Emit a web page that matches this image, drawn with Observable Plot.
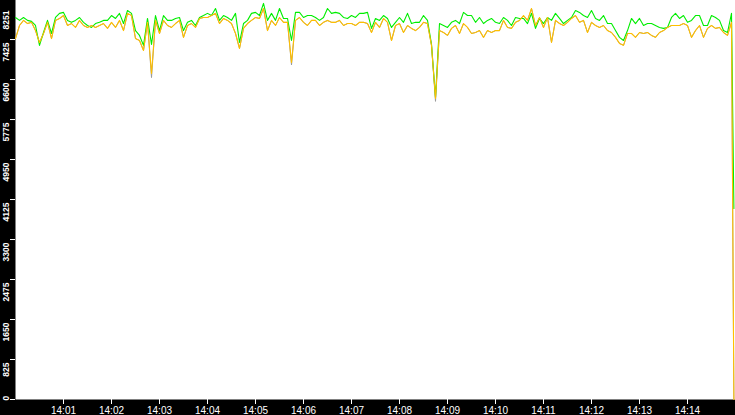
<!DOCTYPE html>
<html>
<head>
<meta charset="utf-8">
<script src="https://cdn.jsdelivr.net/npm/d3@7"></script>
<script src="https://cdn.jsdelivr.net/npm/@observablehq/plot@0.6"></script>
<style>
  html, body { margin: 0; padding: 0; background: #000; overflow: hidden; }
</style>
</head>
<body>
<div id="chart"></div>
<script>
// ---- data (one sample every 5 s from 14:00:00) ----
const startTime = Date.UTC(2024, 0, 1, 14, 0, 0);
const sampleSeconds = [...d3.range(0, 900, 5), 898];

const greenSeries = [
  7880,7820,7880,7820,7800,7715,7305,7570,7820,7550,
  7880,7965,7985,7820,7780,7820,7880,7780,7715,7675,
  7755,7780,7820,7820,7920,7860,7965,7755,8025,7965,
  7610,7510,7305,7860,7325,7920,7610,7920,7820,7820,
  7860,7880,7610,7780,7820,
  7715,7880,7920,7965,7920,8065,7820,7920,7880,7820,
  7965,7365,7755,7820,7965,7985,7920,8170,7820,7965,
  7820,8065,7860,7860,7405,7985,7985,7880,7920,7920,
  7880,7820,7880,8065,7965,7985,7965,7880,7860,7920,
  7880,7965,7965,7985,7655,
  7860,7820,7920,7860,7675,7780,7880,7780,7965,7755,
  7780,7780,7920,7820,7325,6230,7755,7715,7675,7780,
  7820,7755,7985,7920,7920,7780,7880,7755,7820,7860,
  7780,7755,7880,7820,7715,7880,7860,7860,7755,7965,
  7655,7860,7755,7880,7820,
  7965,7860,7755,7820,7880,8025,7985,7920,7880,8025,
  7860,7820,7920,7755,7755,7610,7470,7405,7610,7860,
  7755,7860,7715,7755,7755,7715,7675,7655,7675,7880,
  7965,7860,7920,7780,7820,7920,7920,7715,7715,7920,
  7880,7820,7610,7570,7965,3940
];

const yellowSeries = [
  7445,7715,7820,7755,7780,7610,7365,7550,7780,7445,
  7820,7860,7920,7715,7755,7675,7820,7715,7675,7715,
  7675,7715,7755,7655,7780,7675,7820,7610,7965,7920,
  7445,7405,7200,7780,6725,7820,7550,7820,7715,7675,
  7755,7820,7470,7715,7755,
  7675,7860,7880,7880,7920,7965,7755,7860,7820,7755,
  7550,7240,7655,7755,7820,7880,7860,8065,7610,7820,
  7715,7880,7780,7780,6950,7820,7880,7780,7715,7820,
  7820,7715,7780,7820,7780,7780,7820,7715,7755,7755,
  7715,7780,7780,7755,7570,
  7780,7675,7860,7780,7405,7715,7755,7570,7715,7655,
  7610,7675,7780,7755,7305,6210,7610,7570,7510,7655,
  7715,7550,7755,7675,7550,7570,7610,7470,7610,7570,
  7610,7610,7820,7675,7655,7780,7820,7920,7820,8065,
  7715,7880,7675,7880,7365,
  7820,7755,7715,7780,7860,7920,7780,7820,7570,7780,
  7715,7675,7715,7610,7570,7470,7345,7305,7550,7550,
  7470,7570,7550,7570,7510,7470,7570,7610,7675,7715,
  7715,7715,7755,7715,7470,7610,7715,7470,7655,7715,
  7655,7675,7570,7510,7780,0
];

const graySeries = [
  7445,7715,7820,7755,7780,7610,7365,7550,7780,7445,
  7820,7860,7920,7715,7755,7675,7820,7715,7675,7715,
  7675,7715,7755,7655,7780,7675,7820,7610,7965,7920,
  7445,7405,7200,7780,6640,7820,7550,7820,7715,7675,
  7755,7820,7470,7715,7755,
  7675,7860,7880,7880,7920,7965,7755,7860,7820,7755,
  7550,7240,7655,7755,7820,7880,7860,8065,7610,7820,
  7715,7880,7780,7780,6900,7820,7880,7780,7715,7820,
  7820,7715,7780,7820,7780,7780,7820,7715,7755,7755,
  7715,7780,7780,7755,7570,
  7780,7675,7860,7780,7405,7715,7755,7570,7715,7655,
  7610,7675,7780,7755,7305,6150,7610,7570,7510,7655,
  7715,7550,7755,7675,7550,7570,7610,7470,7610,7570,
  7610,7610,7820,7675,7655,7780,7820,7920,7820,8065,
  7715,7880,7675,7880,7365,
  7820,7755,7715,7780,7860,7920,7780,7820,7570,7780,
  7715,7675,7715,7610,7570,7470,7345,7305,7550,7550,
  7470,7570,7550,7570,7510,7470,7570,7610,7675,7715,
  7715,7715,7755,7715,7470,7610,7715,7470,7655,7715,
  7655,7675,7570,7510,7780,0
];

const yTickValues = [0, 825, 1650, 2475, 3300, 4125, 4950, 5775, 6600, 7425, 8251];
const xTickLabels = ["14:01","14:02","14:03","14:04","14:05","14:06","14:07",
                     "14:08","14:09","14:10","14:11","14:12","14:13","14:14"];

// ---- build table ----
const rows = sampleSeconds.map((s, i) => ({
  time: new Date(startTime + s * 1000),
  green: greenSeries[i],
  yellow: yellowSeries[i],
  gray: graySeries[i]
}));
const xTicks = xTickLabels.map(l => {
  const [h, m] = l.split(":").map(Number);
  return new Date(Date.UTC(2024, 0, 1, h, m, 0));
});
const midTicks = yTickValues.filter(v => v !== 0 && v !== 8251);
const yLabelFont = {
  fill: "#fff",
  fontFamily: "'Liberation Sans Narrow', 'Liberation Sans', sans-serif",
  fontSize: 8.5,
  fontWeight: "bold",
  frameAnchor: "left",
  rotate: -90,
  dx: -9.5
};

const chart = Plot.plot({
  width: 735,
  height: 415,
  marginLeft: 15,
  marginRight: 0,
  marginTop: -1,
  marginBottom: 16,
  style: {
    background: "#000",
    color: "#fff",
    fontFamily: "'Liberation Sans', Arial, sans-serif",
    fontSize: "10px",
    overflow: "visible"
  },
  x: {
    type: "utc",
    domain: [new Date(startTime), new Date(startTime + 15 * 60 * 1000)],
    ticks: xTicks,
    tickFormat: d3.utcFormat("%H:%M"),
    tickSize: 5,
    tickPadding: 2,
    label: null
  },
  y: {
    domain: [0, 8251],
    ticks: yTickValues,
    tickFormat: () => "",
    tickSize: 5,
    label: null
  },
  marks: [
    Plot.frame({fill: "#fff", stroke: "none"}),
    Plot.lineY(rows, {x: "time", y: "gray", stroke: "#9a9a9a", strokeWidth: 1}),
    Plot.lineY(rows, {x: "time", y: "green", stroke: "#00ee00", strokeWidth: 1.1}),
    Plot.lineY(rows, {x: "time", y: "yellow", stroke: "#ffbf00", strokeWidth: 1.1}),
    Plot.text(midTicks, {y: d => d, text: d => String(d), textAnchor: "end", dy: 3, ...yLabelFont}),
    Plot.text([0], {y: d => d, text: d => String(d), textAnchor: "start", dy: 1, ...yLabelFont}),
    Plot.text([8251], {y: d => d, text: d => String(d), textAnchor: "end", dy: 11, ...yLabelFont})
  ]
});
document.getElementById("chart").appendChild(chart);
</script>
</body>
</html>
